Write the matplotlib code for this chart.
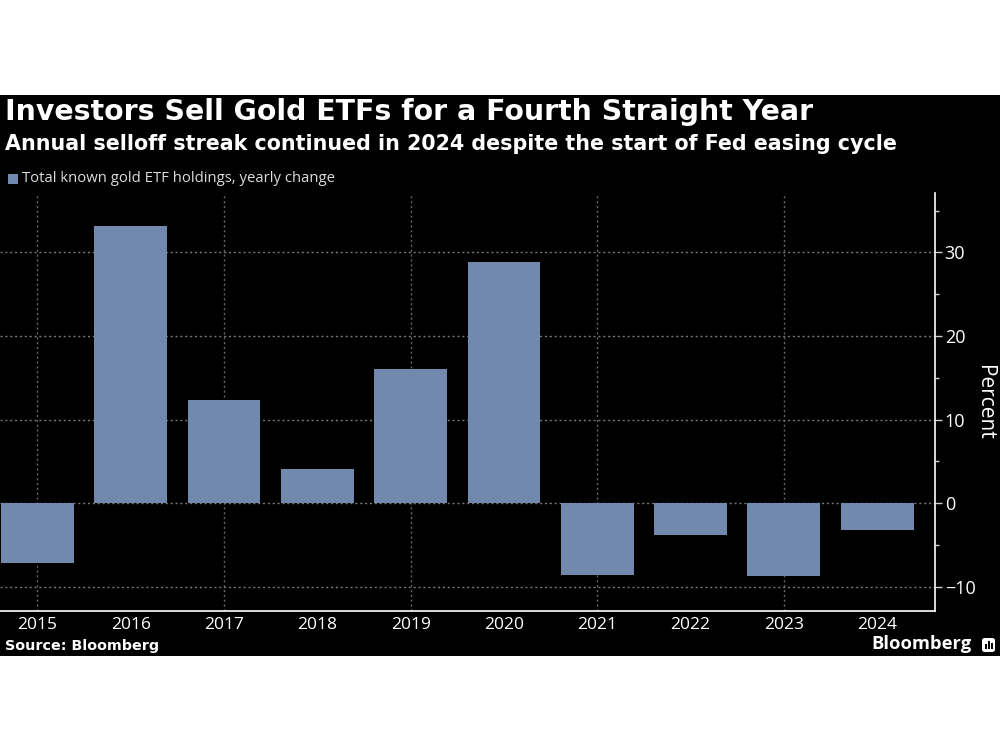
import matplotlib
matplotlib.use("Agg")
import matplotlib.pyplot as plt
from matplotlib.patches import Rectangle, FancyBboxPatch
from matplotlib.ticker import MultipleLocator

years = [2015, 2016, 2017, 2018, 2019, 2020, 2021, 2022, 2023, 2024]
changes = [-7.2, 33.1, 12.3, 4.1, 16.0, 28.8, -8.6, -3.8, -8.7, -3.2]
y_ticks = [-10, 0, 10, 20, 30]

title = "Investors Sell Gold ETFs for a Fourth Straight Year"
subtitle = "Annual selloff streak continued in 2024 despite the start of Fed easing cycle"
legend_label = "Total known gold ETF holdings, yearly change"
source = "Source: Bloomberg"

bar_color = "#7189AD"
W, H = 1000, 750

fig = plt.figure(figsize=(10, 7.5), dpi=100)
fig.patch.set_facecolor("white")

# black panel
fig.patches.append(Rectangle((0, 1 - 656 / H), 1, (656 - 95) / H, transform=fig.transFigure,
                             facecolor="black", edgecolor="none", zorder=-10))

ax = fig.add_axes([0, 1 - 611 / H, 0.935, (611 - 193) / H])
ax.set_zorder(1)
ax.set_facecolor("black")
ax.bar(years, changes, width=0.78, color=bar_color, zorder=3)

ax.set_xlim(2014.6, 2024.62)
ax.set_ylim(-12.9, 37.1)

ax.yaxis.tick_right()
ax.yaxis.set_label_position("right")
ax.set_yticks(y_ticks)
ax.yaxis.set_minor_locator(MultipleLocator(5))
ax.tick_params(axis="y", which="major", colors="#cccccc", labelcolor="white",
               labelsize=13, length=5, width=1, pad=2)
ax.tick_params(axis="y", which="minor", colors="#cccccc", length=3, width=1)
ax.set_xticks(years)
ax.set_xticklabels([str(y) for y in years], fontfamily="Open Sans")
ax.set_xticks(years[::2], minor=True)
ax.tick_params(axis="x", which="major", length=0, labelcolor="white", labelsize=12.5, pad=4)
ax.tick_params(axis="x", which="minor", direction="in", length=4, width=1, color="#dddddd")
for lab in ax.get_yticklabels():
    lab.set_fontfamily("Open Sans")

ax.set_ylabel("Percent", rotation=270, color="white", fontsize=15,
              fontfamily="Open Sans", labelpad=14)

for s in ["top", "left"]:
    ax.spines[s].set_visible(False)
for s in ["right", "bottom"]:
    ax.spines[s].set_color("white")
    ax.spines[s].set_linewidth(1.2)

for yv in y_ticks:
    ax.axhline(yv, color="#777777", lw=1, ls=(0, (1.5, 2)), zorder=1)
for xv in years[::2]:
    ax.axvline(xv, color="#666666", lw=1, ls=(0, (1.5, 2)), zorder=1)

# titles
fig.text(5 / W, 1 - 112 / H, title, color="white", fontsize=20.4, fontweight="bold",
         fontfamily="DejaVu Sans", va="center", ha="left")
fig.text(5 / W, 1 - 144 / H, subtitle, color="white", fontsize=14.85, fontweight="bold",
         fontfamily="DejaVu Sans", va="center", ha="left")

# legend
fig.patches.append(Rectangle((8 / W, 1 - 184 / H), 10 / W, 10 / H, transform=fig.transFigure,
                             facecolor=bar_color, edgecolor="none"))
fig.text(22 / W, 1 - 179 / H, legend_label, color="#dddddd", fontsize=10.75,
         fontfamily="Open Sans", va="center", ha="left")

# source
fig.text(5 / W, 1 - 646 / H, source, color="white", fontsize=10.3, fontweight="bold",
         fontfamily="DejaVu Sans", va="center", ha="left")

# Bloomberg logo
fig.text(972 / W, 1 - 644 / H, "Bloomberg", color="white", fontsize=13.2, fontweight="bold",
         fontfamily="Open Sans", va="center", ha="right")
fig.patches.append(FancyBboxPatch((982 / W, 1 - 652 / H), 13 / W, 14 / H,
                                  boxstyle="round,pad=0,rounding_size=0.003",
                                  transform=fig.transFigure, facecolor="white", edgecolor="none"))
for i, hgt in enumerate([5, 8, 6]):
    fig.patches.append(Rectangle(((984.5 + i * 3.2) / W, 1 - 649 / H), 2 / W, hgt / H,
                                 transform=fig.transFigure, facecolor="black", edgecolor="none"))

fig.savefig("out.png", dpi=100, facecolor="white")
